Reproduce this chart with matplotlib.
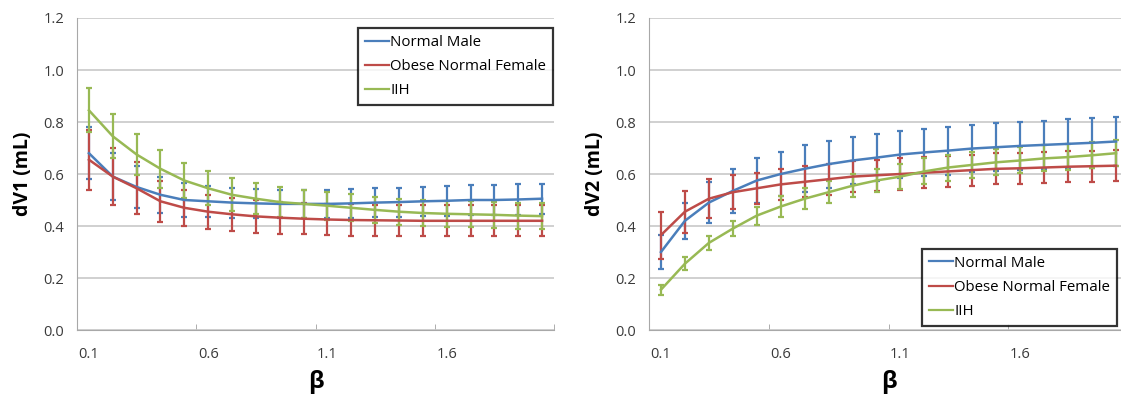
import matplotlib
matplotlib.use("Agg")
import matplotlib.pyplot as plt
import numpy as np

beta = [0.1, 0.2, 0.3, 0.4, 0.5, 0.6, 0.7, 0.8, 0.9, 1.0,
        1.1, 1.2, 1.3, 1.4, 1.5, 1.6, 1.7, 1.8, 1.9, 2.0]
tick_labels = ["0.1", "0.6", "1.1", "1.6"]
series_names = ["Normal Male", "Obese Normal Female", "IIH"]

# dV1
dv1_male = [0.68, 0.59, 0.55, 0.52, 0.50, 0.495, 0.49, 0.487, 0.485, 0.485,
            0.485, 0.487, 0.49, 0.492, 0.495, 0.497, 0.50, 0.50, 0.502, 0.505]
dv1_male_err = [0.10, 0.09, 0.08, 0.07, 0.065, 0.06, 0.058, 0.056, 0.055, 0.055,
                0.055, 0.055, 0.055, 0.056, 0.056, 0.057, 0.057, 0.058, 0.058, 0.058]
dv1_female = [0.655, 0.59, 0.545, 0.495, 0.47, 0.455, 0.445, 0.437, 0.432, 0.428,
              0.425, 0.423, 0.422, 0.421, 0.420, 0.420, 0.420, 0.420, 0.420, 0.420]
dv1_female_err = [0.115, 0.11, 0.10, 0.08, 0.07, 0.065, 0.063, 0.062, 0.061, 0.06,
                  0.06, 0.06, 0.06, 0.06, 0.06, 0.06, 0.06, 0.06, 0.06, 0.06]
dv1_iih = [0.845, 0.745, 0.675, 0.62, 0.575, 0.545, 0.52, 0.505, 0.492, 0.485,
           0.478, 0.47, 0.462, 0.455, 0.45, 0.447, 0.445, 0.443, 0.44, 0.438]
dv1_iih_err = [0.085, 0.085, 0.078, 0.072, 0.068, 0.065, 0.063, 0.06, 0.058, 0.055,
               0.053, 0.052, 0.05, 0.05, 0.05, 0.05, 0.05, 0.05, 0.05, 0.05]

# dV2
dv2_male = [0.30, 0.42, 0.49, 0.535, 0.575, 0.60, 0.62, 0.638, 0.652, 0.663,
            0.675, 0.683, 0.69, 0.698, 0.703, 0.708, 0.712, 0.716, 0.72, 0.725]
dv2_male_err = [0.065, 0.07, 0.08, 0.085, 0.085, 0.085, 0.09, 0.09, 0.09, 0.09,
                0.09, 0.09, 0.092, 0.092, 0.092, 0.093, 0.093, 0.095, 0.095, 0.095]
dv2_female = [0.365, 0.455, 0.505, 0.53, 0.545, 0.56, 0.57, 0.58, 0.59, 0.595,
              0.60, 0.605, 0.61, 0.615, 0.62, 0.622, 0.625, 0.628, 0.63, 0.632]
dv2_female_err = [0.09, 0.08, 0.075, 0.065, 0.06, 0.06, 0.06, 0.06, 0.06, 0.06,
                  0.06, 0.06, 0.06, 0.06, 0.06, 0.06, 0.06, 0.06, 0.06, 0.06]
dv2_iih = [0.155, 0.255, 0.335, 0.39, 0.44, 0.475, 0.505, 0.53, 0.555, 0.575,
           0.59, 0.61, 0.625, 0.635, 0.645, 0.652, 0.66, 0.665, 0.672, 0.68]
dv2_iih_err = [0.02, 0.025, 0.028, 0.03, 0.035, 0.04, 0.04, 0.042, 0.045, 0.045,
               0.048, 0.05, 0.05, 0.05, 0.05, 0.05, 0.05, 0.05, 0.05, 0.05]

colors = ["#4A7EBB", "#BE4B48", "#98B954"]

plt.rcParams['font.family'] = ['Open Sans', 'DejaVu Sans']

W, H = 1121, 396
fig = plt.figure(figsize=(W / 100, H / 100), dpi=100)


def make_axes(x0, x1, y_top, y_bot):
    return fig.add_axes([x0 / W, 1 - y_bot / H, (x1 - x0) / W, (y_bot - y_top) / H])


ax1 = make_axes(77, 554, 18, 330)
ax2 = make_axes(649, 1128, 18, 330)


def draw(ax, data, errs, ylabel, legend_loc, legend_anchor):
    xs = np.arange(len(beta))
    for vals, err, c, name in zip(data, errs, colors, series_names):
        ax.errorbar(xs, vals, yerr=err, color=c, lw=1.8, elinewidth=1.6,
                    capsize=2.2, capthick=1.6, label=name, clip_on=False)
    ax.set_xlim(-0.5, len(beta) - 0.5)
    ax.set_ylim(0, 1.2)
    yt = np.arange(0, 1.21, 0.2)
    ax.set_yticks(yt)
    ax.set_yticklabels([f"{v:.1f}" for v in yt], fontsize=10.5, color="#3A3A3A")
    ax.tick_params(axis='y', length=0, pad=9)
    ax.set_xticks([0, 5, 10, 15])
    ax.set_xticklabels(tick_labels, fontsize=10.5, color="#3A3A3A")
    ax.tick_params(axis='x', which='major', length=0, pad=12)
    ax.set_xticks([4.5, 9.5, 14.5, 19.5], minor=True)
    ax.tick_params(axis='x', which='minor', length=4, direction='in', color="#A0A0A0")
    ax.grid(axis='y', color="#C8C8C8", lw=1.2)
    ax.set_axisbelow(True)
    for s in ['top', 'right']:
        ax.spines[s].set_visible(False)
    for s in ['left', 'bottom']:
        ax.spines[s].set_color("#A8A8A8")
    ax.set_ylabel(ylabel, fontsize=14, fontweight='bold', labelpad=8)
    ax.set_xlabel("β", fontsize=17, fontweight='bold', labelpad=6)
    handles = [plt.Line2D([], [], color=c, lw=1.6) for c in colors]
    leg = ax.legend(handles, series_names, loc=legend_loc, bbox_to_anchor=legend_anchor,
                    frameon=True, fancybox=False, edgecolor='black', fontsize=10.8,
                    handlelength=1.6, handletextpad=0.1, borderpad=0.45, labelspacing=0.62,
                    borderaxespad=0)
    leg.get_frame().set_linewidth(1.6)
    return leg


leg1 = draw(ax1, [dv1_male, dv1_female, dv1_iih], [dv1_male_err, dv1_female_err, dv1_iih_err],
            "dV1 (mL)", "upper right", (476 / 477, 1 - 10 / 312))
leg2 = draw(ax2, [dv2_male, dv2_female, dv2_iih], [dv2_male_err, dv2_female_err, dv2_iih_err],
            "dV2 (mL)", "lower right", (468 / 479, 4 / 312))

fig.savefig("out.png", dpi=100)
